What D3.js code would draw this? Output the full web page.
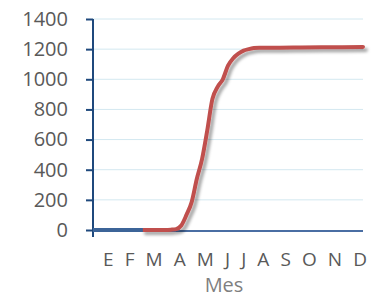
<!DOCTYPE html>
<html>
<head>
<meta charset="utf-8">
<script src="https://cdn.jsdelivr.net/npm/d3@7"></script>
<style>
  body { margin: 0; background: #fff; }
  svg { display: block; }
</style>
</head>
<body>
<div id="chart"></div>
<script>
// data (x = week of year)
const monthLabels = ["E", "F", "M", "A", "M", "J", "J", "A", "S", "O", "N", "D"]
const yTicks = [0, 200, 400, 600, 800, 1000, 1200, 1400]

const blueWeeks = [0, 1, 2, 3, 4, 5, 6, 7, 8, 9.6]
const blueValues = [0, 0, 0, 0, 0, 0, 0, 0, 0, 0]

const redWeeks = [9.6, 10, 11, 12, 13, 14, 15, 16, 17, 18, 19, 20, 21, 22, 23, 24, 25, 26, 27, 28, 29, 30, 31, 32, 36, 40, 44, 48, 52]
const redValues = [0, 0, 0, 0, 0, 0, 2, 6, 30, 100, 185, 340, 470, 660, 870, 950, 1000, 1090, 1140, 1170, 1190, 1200, 1207, 1210, 1210, 1211, 1212, 1213, 1215]

const W = 381, H = 300
const FONT = "'Open Sans', sans-serif"

const svg = d3.select("#chart")
    .append("svg")
    .attr("width", W)
    .attr("height", H)

const defs = svg.append("defs")
const shadow = defs.append("filter")
    .attr("id", "shadow")
    .attr("x", "-10%").attr("y", "-10%")
    .attr("width", "130%").attr("height", "130%")
shadow.append("feDropShadow")
    .attr("dx", 3).attr("dy", 3)
    .attr("stdDeviation", 1.6)
    .attr("flood-color", "#000")
    .attr("flood-opacity", 0.35)

const xScale = d3.scaleLinear()
    .domain([0, 52])
    .range([93, 363])

const yScale = d3.scaleLinear()
    .domain([0, 1400])
    .range([230, 19])

// gridlines
svg.append("g")
    .selectAll("line")
    .data(yTicks.filter(d => d > 0))
    .join("line")
    .attr("x1", xScale(0))
    .attr("x2", xScale(52))
    .attr("y1", d => yScale(d))
    .attr("y2", d => yScale(d))
    .attr("stroke", "#d3e8f0")
    .attr("stroke-width", 1)

// x axis line
svg.append("line")
    .attr("x1", xScale(0))
    .attr("x2", xScale(52))
    .attr("y1", yScale(0) + 1)
    .attr("y2", yScale(0) + 1)
    .attr("stroke", "#4a6ea3")
    .attr("stroke-width", 2)

// y axis
const yAxis = d3.axisLeft(yScale)
    .tickValues(yTicks)
    .tickFormat(d3.format("d"))
    .tickSize(7)
    .tickPadding(18)

const gy = svg.append("g")
    .attr("transform", `translate(${xScale(0)},0)`)
    .call(yAxis)

gy.select(".domain")
    .attr("d", `M0,${yScale(1400)}V${yScale(0) + 7}`)
    .attr("stroke", "#1f497d")
    .attr("stroke-width", 2)
gy.selectAll(".tick line")
    .attr("stroke", "#1f497d")
    .attr("stroke-width", 2)
gy.selectAll(".tick text")
    .attr("fill", "#595959")
    .style("font-family", FONT)
    .style("font-size", "20px")

const line = d3.line()
    .curve(d3.curveMonotoneX)
    .x(d => xScale(d[0]))
    .y(d => yScale(d[1]))

// red series
svg.append("path")
    .datum(d3.zip(redWeeks, redValues))
    .attr("d", line)
    .attr("fill", "none")
    .attr("stroke", "#c0504d")
    .attr("stroke-width", 4)
    .attr("stroke-linecap", "round")
    .attr("filter", "url(#shadow)")

// blue series
svg.append("path")
    .datum(d3.zip(blueWeeks, blueValues))
    .attr("d", line)
    .attr("fill", "none")
    .attr("stroke", "#3c6498")
    .attr("stroke-width", 4)

// month labels
svg.append("text")
    .attr("x", 103)
    .attr("y", 266)
    .attr("textLength", 264)
    .attr("lengthAdjust", "spacing")
    .attr("fill", "#595959")
    .style("font-family", FONT)
    .style("font-size", "19px")
    .text(monthLabels.join(" "))

// axis title
svg.append("text")
    .attr("x", 224)
    .attr("y", 292)
    .attr("text-anchor", "middle")
    .attr("fill", "#7f7f7f")
    .style("font-family", FONT)
    .style("font-size", "20px")
    .text("Mes")
</script>
</body>
</html>
